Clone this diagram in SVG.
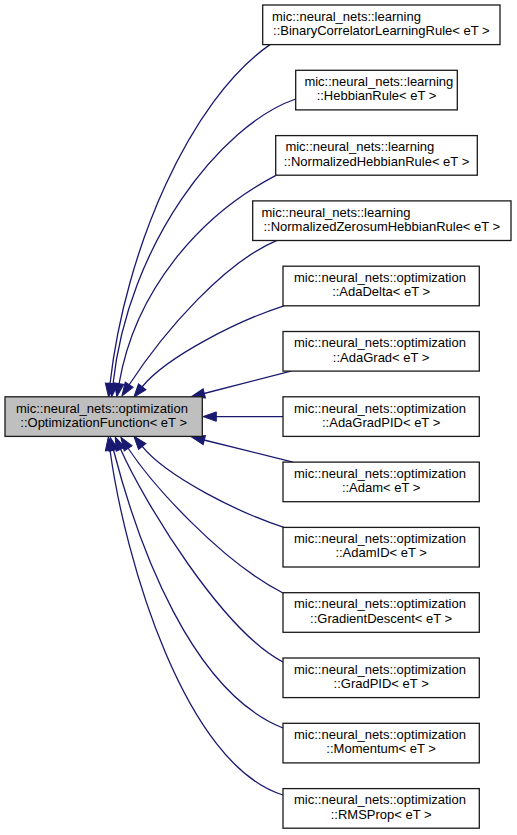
<svg xmlns="http://www.w3.org/2000/svg" width="517" height="835" viewBox="0 0 517 835">
<defs>
<style>
.node rect { fill: #ffffff; stroke: #1a1a1a; stroke-width: 1.3; }
.main rect { fill: #bfbfbf; }
.node text { font-family: "Liberation Sans", Arial, Helvetica, sans-serif; font-size: 13px; fill: #000000; }
.l1 { text-anchor: start; }
.l2 { text-anchor: middle; }
.edges path { fill: none; stroke: #191970; stroke-width: 1.3; marker-end: url(#ah); }
</style>
<marker id="ah" markerUnits="userSpaceOnUse" markerWidth="13.3" markerHeight="9.4" viewBox="0 0 13.3 9.4" refX="0.3" refY="4.7" orient="auto" overflow="visible">
<path d="M0,0 L13.3,4.7 L0,9.4 Z" fill="#191970" stroke="#191970" stroke-width="1"/>
</marker>
</defs>
<rect x="0" y="0" width="517" height="835" fill="#ffffff"/>

<g class="edges" id="edges">
<path d="M270,44.6 C190,100 125,250 110,384"/>
<path d="M295.7,99 C220,125 128,245 113,384"/>
<path d="M276,175.3 C200,215 135,290 119,384"/>
<path d="M277,240.3 C225,262 165,330 129,385"/>
<path d="M284,305.8 C240,320 167,356 142,387"/>
<path d="M291,371.1 L204,393.5"/>
<path d="M283,416.6 L216,416.6"/>
<path d="M293,462.1 L204,440"/>
<path d="M284,527.4 C240,513.2 167,477.2 142,446.2"/>
<path d="M283,593 C222,562 152.75,485.4 128,448"/>
<path d="M283,662 C223,631 145,504 120.5,449"/>
<path d="M283,728 C192,692 138.5,547 113.5,450"/>
<path d="M283,795 C185,765 125,560 110,450"/>
</g>

<g class="node main" id="node-OptimizationFunction">
<rect x="5" y="396.8" width="197.3" height="39.6"/>
<text class="l1" x="16" y="412.5">mic::neural_nets::optimization</text>
<text class="l2" x="103.65" y="426.8">::OptimizationFunction&lt; eT &gt;</text>
</g>

<g class="node" id="node-BinaryCorrelatorLearningRule">
<rect x="262.7" y="5" width="237.3" height="39.6"/>
<text class="l1" x="272" y="20.7">mic::neural_nets::learning</text>
<text class="l2" x="381.35" y="35">::BinaryCorrelatorLearningRule&lt; eT &gt;</text>
</g>

<g class="node" id="node-HebbianRule">
<rect x="295.7" y="70.3" width="161.6" height="39.6"/>
<text class="l1" x="304.4" y="86">mic::neural_nets::learning</text>
<text class="l2" x="376.5" y="100.3">::HebbianRule&lt; eT &gt;</text>
</g>

<g class="node" id="node-NormalizedHebbianRule">
<rect x="275.7" y="135.6" width="201.6" height="39.6"/>
<text class="l1" x="285.4" y="151.3">mic::neural_nets::learning</text>
<text class="l2" x="376.5" y="165.6">::NormalizedHebbianRule&lt; eT &gt;</text>
</g>

<g class="node" id="node-NormalizedZerosumHebbianRule">
<rect x="252.7" y="200.9" width="258.3" height="39.6"/>
<text class="l1" x="261.5" y="216.6">mic::neural_nets::learning</text>
<text class="l2" x="381.85" y="230.9">::NormalizedZerosumHebbianRule&lt; eT &gt;</text>
</g>

<g class="node" id="node-AdaDelta">
<rect x="283" y="266.2" width="196.3" height="39.6"/>
<text class="l1" x="294" y="281.9">mic::neural_nets::optimization</text>
<text class="l2" x="381.15" y="296.2">::AdaDelta&lt; eT &gt;</text>
</g>

<g class="node" id="node-AdaGrad">
<rect x="283" y="331.5" width="196.3" height="39.6"/>
<text class="l1" x="294" y="347.2">mic::neural_nets::optimization</text>
<text class="l2" x="381.15" y="361.5">::AdaGrad&lt; eT &gt;</text>
</g>

<g class="node" id="node-AdaGradPID">
<rect x="283" y="396.8" width="196.3" height="39.6"/>
<text class="l1" x="294" y="412.5">mic::neural_nets::optimization</text>
<text class="l2" x="381.15" y="426.8">::AdaGradPID&lt; eT &gt;</text>
</g>

<g class="node" id="node-Adam">
<rect x="283" y="462.1" width="196.3" height="39.6"/>
<text class="l1" x="294" y="477.8">mic::neural_nets::optimization</text>
<text class="l2" x="381.15" y="492.1">::Adam&lt; eT &gt;</text>
</g>

<g class="node" id="node-AdamID">
<rect x="283" y="527.4" width="196.3" height="39.6"/>
<text class="l1" x="294" y="543.1">mic::neural_nets::optimization</text>
<text class="l2" x="381.15" y="557.4">::AdamID&lt; eT &gt;</text>
</g>

<g class="node" id="node-GradientDescent">
<rect x="283" y="592.7" width="196.3" height="39.6"/>
<text class="l1" x="294" y="608.4">mic::neural_nets::optimization</text>
<text class="l2" x="381.15" y="622.7">::GradientDescent&lt; eT &gt;</text>
</g>

<g class="node" id="node-GradPID">
<rect x="283" y="658" width="196.3" height="39.6"/>
<text class="l1" x="294" y="673.7">mic::neural_nets::optimization</text>
<text class="l2" x="381.15" y="688">::GradPID&lt; eT &gt;</text>
</g>

<g class="node" id="node-Momentum">
<rect x="283" y="723.3" width="196.3" height="39.6"/>
<text class="l1" x="294" y="739">mic::neural_nets::optimization</text>
<text class="l2" x="381.15" y="753.3">::Momentum&lt; eT &gt;</text>
</g>

<g class="node" id="node-RMSProp">
<rect x="283" y="788.6" width="196.3" height="39.6"/>
<text class="l1" x="294" y="804.3">mic::neural_nets::optimization</text>
<text class="l2" x="381.15" y="818.6">::RMSProp&lt; eT &gt;</text>
</g>
</svg>
